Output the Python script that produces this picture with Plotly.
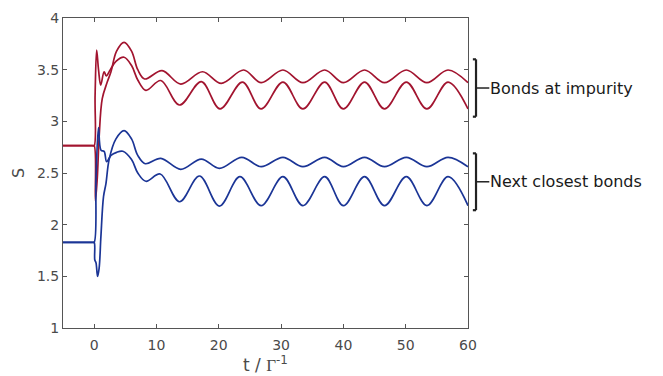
import plotly.graph_objects as go

# ---- data ----
# red, large-amplitude bond (spikes up at t=0)
t_red_a = [-5, -0.3, 0, 0.15, 0.4, 0.7, 1.05, 1.6, 1.95, 2.6, 3.5, 4.8, 6.0, 7.0, 8.3,
           10.7, 13.7, 17.2, 20.2, 23.8, 26.8, 30.3, 33.5, 37.0, 40.0, 43.4, 46.6, 50.1,
           53.4, 56.8, 60.0]
s_red_a = [2.764, 2.764, 2.764, 3.25, 3.69, 3.50, 3.35, 3.48, 3.44, 3.50, 3.58, 3.62, 3.54,
           3.40, 3.30, 3.395, 3.158, 3.384, 3.12, 3.38, 3.12, 3.38, 3.12, 3.38, 3.12, 3.38,
           3.12, 3.38, 3.12, 3.38, 3.12]

# red, small-amplitude bond (dips at t=0)
t_red_b = [-5, -0.3, 0, 0.2, 0.5, 0.8, 1.3, 2.1, 2.7, 3.6, 4.8, 6.0, 7.0, 8.1, 10.9,
           13.9, 17.4, 20.4, 24.0, 26.8, 30.3, 33.5, 37.0, 40.0, 43.4, 46.6, 50.1, 53.4,
           56.8, 60.0]
s_red_b = [2.764, 2.764, 2.764, 2.23, 2.45, 2.85, 3.22, 3.38, 3.48, 3.68, 3.765, 3.68, 3.50,
           3.41, 3.49, 3.361, 3.48, 3.368, 3.497, 3.374, 3.497, 3.374, 3.497, 3.374, 3.497,
           3.374, 3.497, 3.374, 3.497, 3.374]

# blue, small-amplitude bond (dips at t=0)
t_blue_c = [-5, -0.3, 0, 0.1, 0.3, 0.55, 0.8, 1.08, 1.5, 1.9, 2.4, 3.5, 4.8, 6.0, 7.0, 8.2,
            10.7, 13.9, 17.2, 20.1, 23.7, 26.8, 30.3, 33.5, 37.0, 40.0, 43.4, 46.6, 50.1,
            53.4, 56.8, 60.0]
s_blue_c = [1.829, 1.829, 1.829, 1.66, 1.63, 1.50, 1.58, 1.88, 2.27, 2.40, 2.63, 2.83, 2.91,
            2.83, 2.67, 2.59, 2.642, 2.536, 2.635, 2.545, 2.652, 2.561, 2.652, 2.561, 2.652,
            2.561, 2.652, 2.561, 2.652, 2.561, 2.652, 2.561]

# blue, large-amplitude bond (spikes up at t=0)
t_blue_d = [-5, -0.3, 0, 0.3, 0.7, 1.1, 1.6, 2.0, 2.7, 3.6, 4.6, 6.0, 7.0, 8.3, 10.6,
            13.7, 16.9, 20.1, 23.4, 26.8, 30.3, 33.5, 37.0, 40.0, 43.4, 46.6, 50.1, 53.4,
            56.8, 60.0]
s_blue_d = [1.829, 1.829, 1.829, 2.45, 2.94, 2.72, 2.71, 2.61, 2.67, 2.70, 2.71, 2.63, 2.50,
            2.42, 2.49, 2.222, 2.471, 2.18, 2.464, 2.184, 2.464, 2.184, 2.464, 2.184, 2.464,
            2.184, 2.464, 2.184, 2.464, 2.184]

x_ticks = [0, 10, 20, 30, 40, 50, 60]
y_ticks = [1, 1.5, 2, 2.5, 3, 3.5, 4]
y_tick_labels = ["1", "1.5", "2", "2.5", "3", "3.5", "4"]

group_labels = ["Bonds at impurity", "Next closest bonds"]
group_lo = [3.045, 2.14]
group_hi = [3.60, 2.69]

RED = "#a2142f"
BLUE = "#1b3596"
AX = "#555555"
TXT = "#4a4a4a"
FONT = "DejaVu Sans"

fig = go.Figure()
for t, s, c in [(t_red_a, s_red_a, RED), (t_red_b, s_red_b, RED),
                (t_blue_c, s_blue_c, BLUE), (t_blue_d, s_blue_d, BLUE)]:
    fig.add_trace(go.Scatter(x=t, y=s, mode="lines",
                             line=dict(color=c, width=1.7, shape="spline", smoothing=1.0),
                             showlegend=False, hoverinfo="skip"))

axis_common = dict(showgrid=False, zeroline=False, showline=True, linecolor=AX,
                   linewidth=1, mirror="ticks", ticks="inside", ticklen=4,
                   tickcolor=AX, tickfont=dict(family=FONT, size=14, color=TXT),
                   automargin=False)

fig.update_xaxes(range=[-5, 60], tickvals=x_ticks, ticklabelstandoff=4, **axis_common,
                 title=dict(text="t / <span style='font-family:Liberation Serif'>Γ</span><sup>-1</sup>",
                            font=dict(family=FONT, size=17, color=TXT), standoff=4))
fig.update_yaxes(range=[1, 4], tickvals=y_ticks, ticktext=y_tick_labels, **axis_common,
                 title=dict(text="S", font=dict(family=FONT, size=16, color=TXT), standoff=8))

# brackets + labels
for lab, lo, hi in zip(group_labels, group_lo, group_hi):
    mid = (lo + hi) / 2
    path_x0, path_x1, path_x2 = 1.012, 1.0198, 1.0526
    fig.add_shape(type="line", xref="paper", yref="y", x0=path_x1, x1=path_x1, y0=lo, y1=hi,
                  line=dict(color="#222222", width=2.2))
    fig.add_shape(type="line", xref="paper", yref="y", x0=path_x0, x1=path_x1, y0=hi, y1=hi,
                  line=dict(color="#222222", width=2.2))
    fig.add_shape(type="line", xref="paper", yref="y", x0=path_x0, x1=path_x1, y0=lo, y1=lo,
                  line=dict(color="#222222", width=2.2))
    fig.add_shape(type="line", xref="paper", yref="y", x0=path_x1, x1=path_x2, y0=mid, y1=mid,
                  line=dict(color="#222222", width=1.5))
    fig.add_annotation(xref="paper", yref="y", x=1.049, y=mid, text=lab, showarrow=False,
                       xanchor="left", yanchor="middle",
                       font=dict(family=FONT, size=16, color="#1a1a1a"))

fig.update_layout(width=663, height=376, margin=dict(l=63, r=195, t=18, b=48),
                  paper_bgcolor="white", plot_bgcolor="white")

fig.write_html("out.html")
